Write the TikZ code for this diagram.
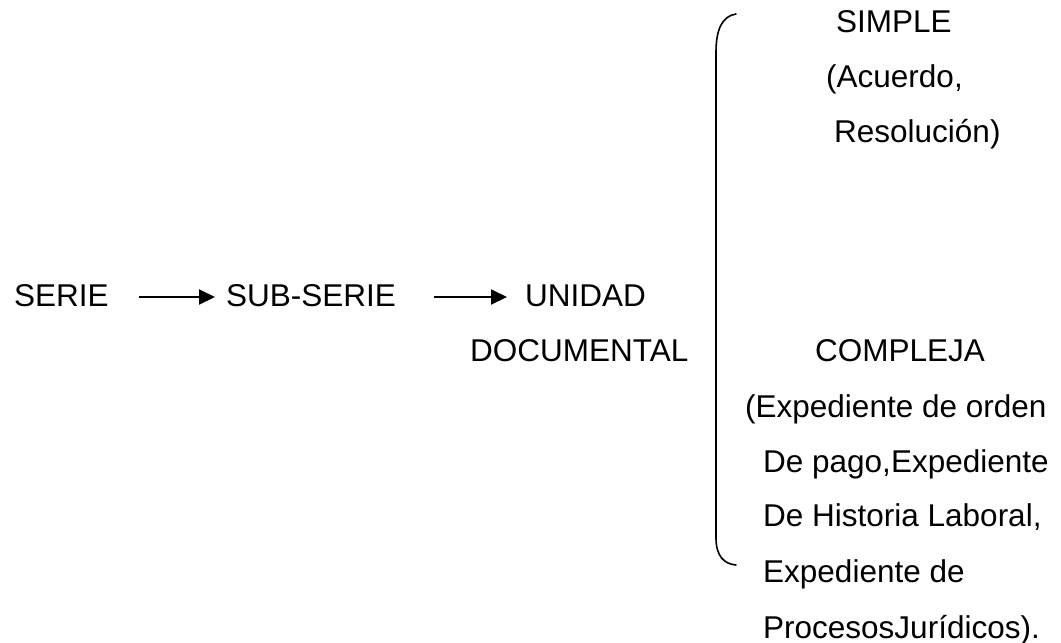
\documentclass[tikz,border=0pt]{standalone}
\usepackage{fontspec}
\setmainfont{Liberation Sans}
\usetikzlibrary{arrows.meta}
\begin{document}
\begin{tikzpicture}[x=1pt,y=-1pt,
  txt/.style={anchor=base west, inner sep=0pt, font=\fontsize{31.5}{31.5}\selectfont},
  arr/.style={line width=2pt, -{Triangle[length=16pt,width=15pt]}},
  brk/.style={line width=1.6pt, line cap=round}]
\useasboundingbox (0,0) rectangle (1061,643);
\node[txt] (serie) at (14,306) {SERIE};
\node[txt] (subserie) at (226,306) {SUB-SERIE};
\node[txt] (unidad) at (525,306) {UNIDAD};
\node[txt] (documental) at (470,361) {DOCUMENTAL};
\draw[arr, shorten <=30pt, shorten >=11pt] ([yshift=9pt]serie.base east) -- ([yshift=9pt]subserie.base west);
\draw[arr, shorten <=38pt, shorten >=18pt] ([yshift=9pt]subserie.base east) -- ([yshift=9pt]unidad.base west);
\draw[brk] (736,14) .. controls (722,16) and (716,30) .. (716,52) -- (716,538) .. controls (716,556) and (724,564) .. (736,565);
\node[txt] (simple) at (836,32) {SIMPLE};
\node[txt] (acuerdo) at (826,87) {(Acuerdo,};
\node[txt] (resolucion) at (834,142) {Resolución)};
\node[txt] (compleja) at (815,361) {COMPLEJA};
\node[txt] (c1) at (745,417) {(Expediente de orden};
\node[txt] (c2) at (763,472) {De pago,Expediente};
\node[txt] (c3) at (763,526) {De Historia Laboral,};
\node[txt] (c4) at (763,582) {Expediente de};
\node[txt] (c5) at (763,638) {ProcesosJurídicos).};
\end{tikzpicture}
\end{document}
